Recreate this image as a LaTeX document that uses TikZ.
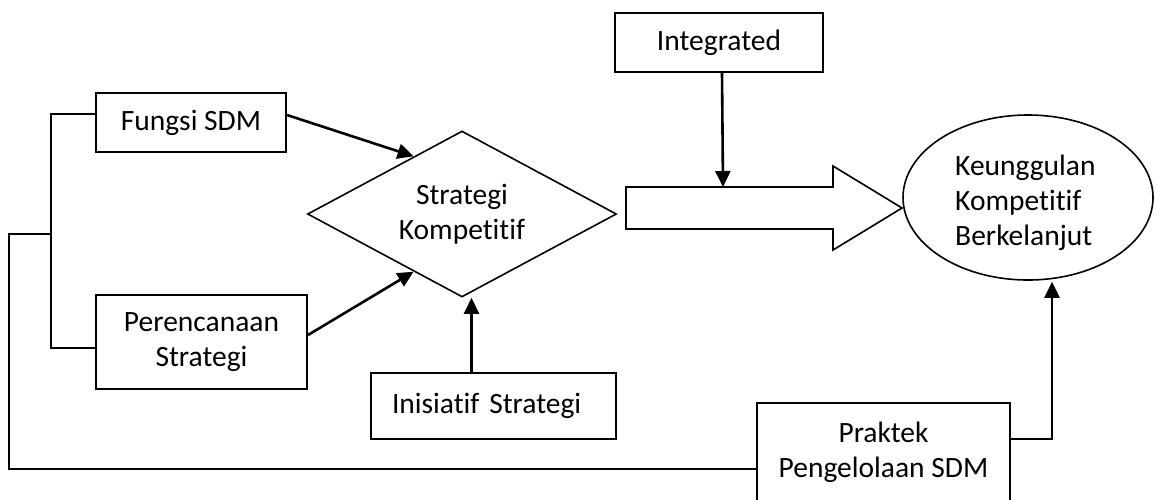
\documentclass[tikz,border=0pt]{standalone}
\usepackage{fontspec}
\setmainfont{Carlito}[Ligatures={NoCommon,NoContextual},RawFeature={-liga;-clig;-dlig}]
\usetikzlibrary{shapes.geometric,arrows.meta}
\begin{document}
\begin{tikzpicture}[x=1pt,y=-1pt,
  txt/.style={font=\fontsize{29.5}{35}\selectfont},
  boxn/.style={draw,line width=2pt,txt,align=center,inner sep=0pt},
  thin/.style={draw,line width=1.6pt},
  conn/.style={line width=2pt},
  arr/.style={line width=2.6pt,-{Triangle[length=16pt,width=15pt]}}]
\useasboundingbox (0,0) rectangle (1155,499);
% nodes
\node[boxn,minimum width=190pt,minimum height=59pt] (fungsi) at (191,122.5) {Fungsi SDM};
\node[boxn,minimum width=211pt,minimum height=94pt] (per) at (201.5,342) {Perencanaan\\Strategi};
\node[boxn,minimum height=66pt,inner xsep=21pt,text width=203pt,align=left] (inis) at (493.5,406) {Inisiatif Strategi};
\node[boxn,minimum width=208pt,minimum height=59pt] (integ) at (719,42.5) {Integrated};
\node[boxn,minimum width=253pt,minimum height=99pt] (prak) at (883.5,452.5) {Praktek\\Pengelolaan SDM};
\node[thin,shape=diamond,aspect=1.86,minimum width=309pt,minimum height=166pt,inner sep=0pt,txt,align=center] (dia) at (462,214) {Strategi\\Kompetitif};
\node[thin,shape=ellipse,minimum width=250pt,minimum height=165pt,inner sep=0pt] (kk) at (1028,197.5) {};
\node[txt,align=left,anchor=west,inner sep=0pt] (kktext) at (955,203) {Keunggulan\\Kompetitif\\Berkelanjut};
% block arrow
\draw[line width=1.6pt] (626,187) -- (833,187) -- (833,166) -- (902,208) -- (833,250) -- (833,229) -- (626,229) -- cycle;
\coordinate (bigtop) at (723,187);
% connectors
\draw[arr] ([yshift=7.5pt]fungsi.east) -- (dia.130);
\draw[arr] ([yshift=7pt]per.east) -- (dia.-130);
\draw[arr] ([xshift=-22pt]inis.north) -- ([xshift=-22pt]inis.north |- dia.south);
\draw[arr] ([xshift=3pt]integ.south) -- (bigtop);
\draw[conn] ([yshift=8.5pt]fungsi.west) -- ++(-44,0) coordinate (bt) |- ([yshift=-6pt]per.west);
\coordinate (jn) at (bt |- 0,234);
\draw[conn] (jn) -- ++(-42,0) |- ([yshift=-16.5pt]prak.west);
\draw[arr] ([yshift=13.5pt]prak.east) -| ([xshift=24pt,yshift=-1pt]kk.south);
\end{tikzpicture}
\end{document}
